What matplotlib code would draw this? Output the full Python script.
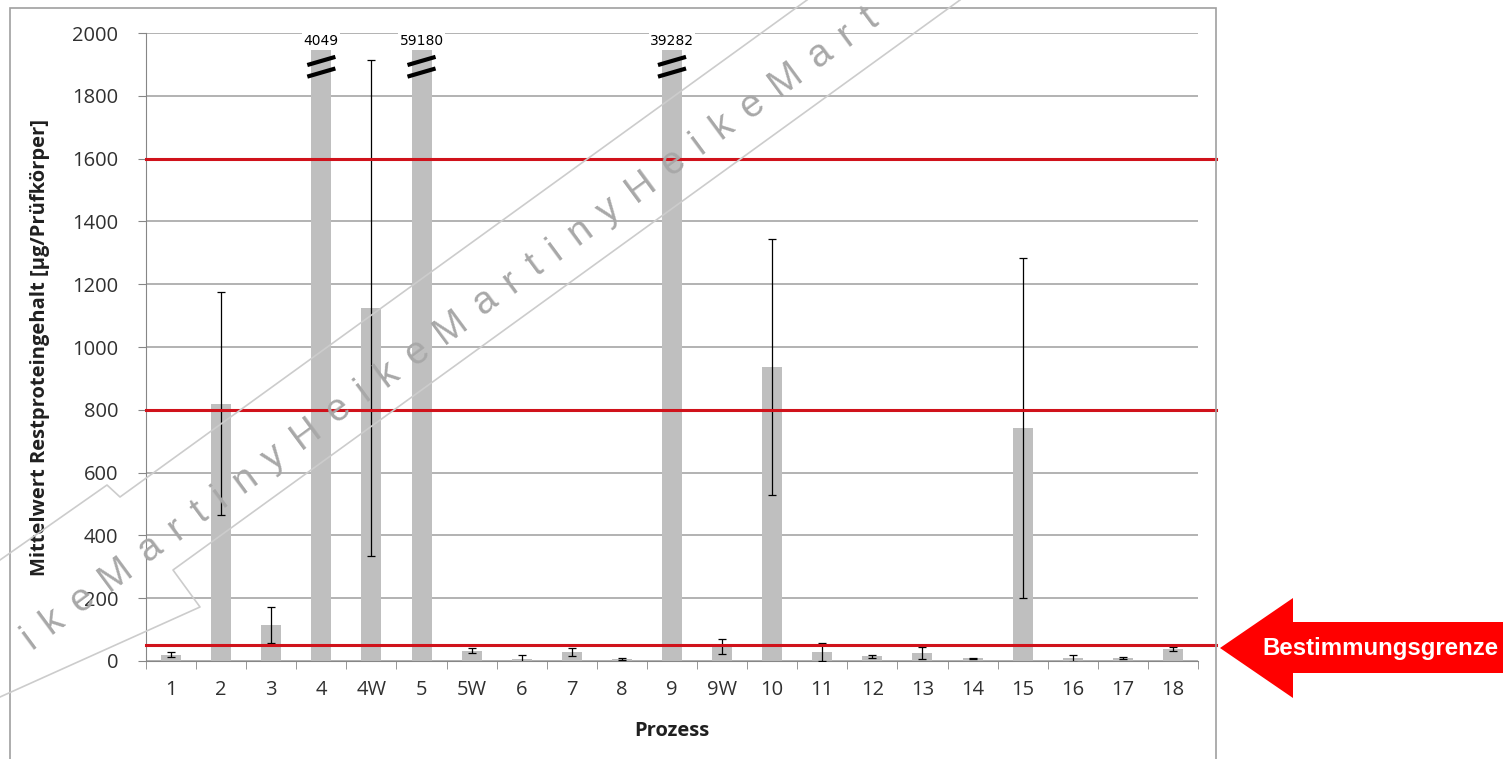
import matplotlib; matplotlib.use("Agg")
import matplotlib.pyplot as plt
from matplotlib.patches import Polygon, Rectangle
from matplotlib.lines import Line2D
import numpy as np

# --- residual protein per process (µg / test specimen) ---
categories = ['1', '2', '3', '4', '4W', '5', '5W', '6', '7', '8', '9', '9W',
              '10', '11', '12', '13', '14', '15', '16', '17', '18']
means = [20, 820, 115, 4049, 1125, 59180, 32, 6, 29, 5, 39282, 45,
         937, 29, 15, 25, 8, 742, 8, 10, 38]
errs = [8, 355, 58, np.nan, 790, np.nan, 8, 13, 13, 3, np.nan, 24,
        408, 28, 5, 20, 3, 540, 12, 3, 7]
limits = [50, 800, 1600]          # red reference lines
BREAK_AT = 1945                   # bars above this are cut and labelled

W, H = 1503, 759
BAR, RED, GRID, AX = "#bfbfbf", "#d0121b", "#a6a6a6", "#868686"
plt.rcParams['font.family'] = ['Open Sans', 'DejaVu Sans']

def px(x, y):
    return (x / W, 1 - y / H)

fig = plt.figure(figsize=(W / 100, H / 100), dpi=100)
ax = fig.add_axes([146 / W, 1 - 661 / H, (1198 - 146) / W, (661 - 33) / H])

x = np.arange(len(categories))
vals = np.array(means, float)
shown = np.minimum(vals, BREAK_AT)
ax.bar(x, shown, width=0.4, color=BAR, zorder=2)
ax.errorbar(x, vals, yerr=errs, fmt='none', ecolor='black', elinewidth=0.9,
            capsize=3, capthick=0.9, zorder=3)

# broken bars: value labels + break marks
for i, v in enumerate(vals):
    if v > BREAK_AT:
        ax.text(i, 1975, f"{int(v)}", ha='center', va='center', fontsize=10,
                family='DejaVu Sans', zorder=5,
                bbox=dict(fc='white', ec='none', pad=1))
        for y0 in (1898, 1861):
            ax.plot([i - 0.28, i + 0.28], [y0, y0 + 26], color='black',
                    lw=3, solid_capstyle='butt', zorder=4)

for lim in limits:
    ax.axhline(lim, xmin=0, xmax=(1216 - 146) / (1198 - 146), color=RED,
               lw=2.2, clip_on=False, zorder=3)

ax.set_xlim(-0.5, len(categories) - 0.5)
ax.set_ylim(0, 2000)
ax.set_yticks(range(0, 2001, 200))
ax.yaxis.grid(True, color=GRID, lw=1.2)
ax.set_axisbelow(True)
ax.set_xticks(x)
ax.set_xticklabels(categories)
ax.set_xticks(np.arange(-0.5, len(categories)), minor=True)
ax.tick_params(axis='x', which='major', length=0, pad=14, labelsize=14.5,
               labelcolor='#303030')
ax.tick_params(axis='x', which='minor', length=6, color=AX, direction='out')
ax.tick_params(axis='y', length=6, color=AX, pad=14, labelsize=14.5,
               labelcolor='#303030')
for s in ('top', 'right'):
    ax.spines[s].set_visible(False)
for s in ('left', 'bottom'):
    ax.spines[s].set_color(AX)

ax.set_ylabel('Mittelwert Restproteingehalt [µg/Prüfkörper]', fontsize=14.5,
              fontweight='bold', color='#202020')
ax.yaxis.set_label_coords(-0.091, 0.5)
ax.set_xlabel('Prozess', fontsize=14.5, fontweight='bold', color='#202020')
ax.xaxis.set_label_coords(0.5, -0.096)

# outer chart frame
fig.add_artist(Rectangle(px(10, 770), (1216 - 10) / W, (770 - 8) / H,
                         transform=fig.transFigure, fill=False, ec='#a0a0a0',
                         lw=1.2))

# watermark: outline band + letter-spaced name
wm = [[(0, 560), (107, 485), (120, 497), (807, 0)],
      [(960, 0), (173, 570), (200, 607), (0, 697)]]
for seg in wm:
    xs, ys = zip(*[px(a, b) for a, b in seg])
    fig.add_artist(Line2D(xs, ys, transform=fig.transFigure, color='#cccccc',
                          lw=1.2))
adv = {'H': .722, 'e': .556, 'i': .222, 'k': .5, 'M': .833, 'a': .556,
       'r': .333, 't': .278, 'n': .556, 'y': .5}
em, gap = 38.5, 0.415
ang = np.arctan2(248, 336)
ux, uy = np.cos(ang), -np.sin(ang)
seq = 'HeikeMartiny' * 4
start = seq.index('M', 12)          # this 'M' sits at (451, 327)
pos = {start: 0.0}
for k in range(start + 1, len(seq)):
    pos[k] = pos[k - 1] + em * ((adv[seq[k - 1]] + adv[seq[k]]) / 2 + gap)
for k in range(start - 1, -1, -1):
    pos[k] = pos[k + 1] - em * ((adv[seq[k + 1]] + adv[seq[k]]) / 2 + gap)
for k, s in pos.items():
    cx, cy = 451 + s * ux, 327 + s * uy
    if 14 < cx < W - 14 and 14 < cy < H - 14:
        fig.text(*px(cx, cy), seq[k], rotation=np.degrees(ang),
                 rotation_mode='anchor', ha='center', va='center',
                 fontsize=em / 1.389, color='#a8a8a8', family='Liberation Sans')

# arrow marking the quantification limit
arrow = [(1220, 648), (1293, 598), (1293, 622), (1503, 622), (1503, 673),
         (1293, 673), (1293, 698)]
fig.add_artist(Polygon([px(a, b) for a, b in arrow], closed=True,
                       transform=fig.transFigure, fc='#ff0000', ec='none'))
fig.text(*px(1380, 648), 'Bestimmungsgrenze', ha='center', va='center',
         color='white', fontsize=17.3, fontweight='bold', family='Liberation Sans')

fig.savefig('out.png', dpi=100)
